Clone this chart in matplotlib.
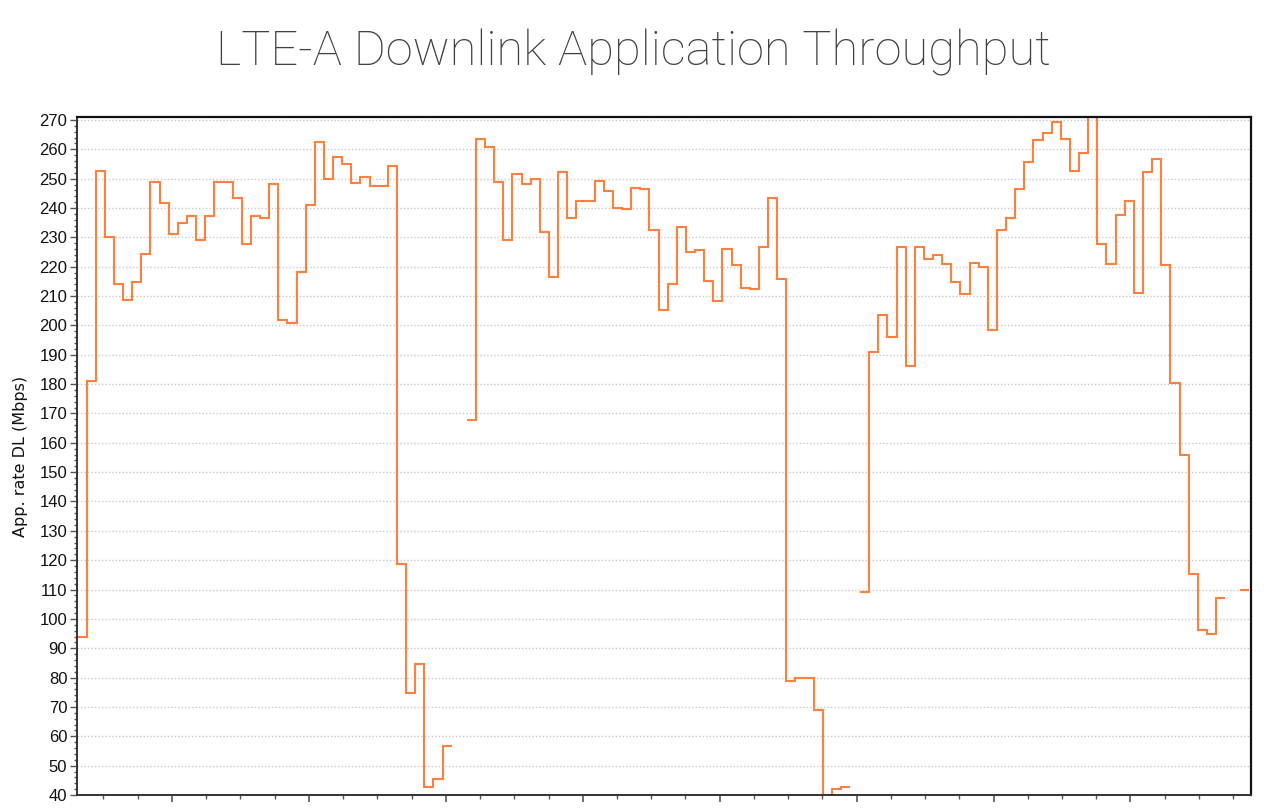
import matplotlib
matplotlib.use("Agg")
import matplotlib.pyplot as plt
import numpy as np
from matplotlib.ticker import MultipleLocator

# App. rate DL samples (Mbps), one per second, in four runs with gaps between them
run_starts = [4.65, 47.3, 90.37, 131.97]  # time of first sample of each run (s)

run_a = [93.9, 181.1, 252.7, 230.2, 214.1, 208.8, 214.7, 224.4, 248.8, 241.7,
         231.2, 234.8, 237.2, 229.0, 237.2, 248.8, 248.8, 243.4, 227.8, 237.2,
         236.5, 248.1, 201.8, 200.7, 218.1, 241.1, 262.5, 249.8, 257.4, 255.1,
         248.6, 250.5, 247.5, 247.5, 254.4, 118.7, 74.9, 84.6, 42.6, 45.5, 56.8]
run_b = [167.8, 263.6, 260.8, 248.8, 229.1, 251.6, 248.2, 249.9, 231.9, 216.4,
         252.2, 236.6, 242.4, 242.4, 249.3, 245.9, 240.1, 239.5, 246.9, 246.4,
         232.5, 205.3, 214.2, 233.6, 225.0, 225.6, 215.1, 208.3, 226.1, 220.5,
         212.8, 212.3, 226.8, 243.4, 215.7, 78.8, 80.0, 80.0, 69.0, 40.1, 41.9, 42.6]
run_c = [109.3, 190.8, 203.5, 196.0, 226.7, 186.3, 226.7, 222.6, 223.9, 221.0,
         214.7, 210.6, 221.4, 219.8, 198.4, 232.4, 236.6, 246.4, 255.7, 263.1,
         265.5, 269.4, 263.6, 252.7, 258.6, 271.0, 227.8, 221.0, 237.7, 242.4,
         211.1, 252.2, 256.7, 220.5, 180.5, 155.7, 115.3, 96.2, 95.0, 107.1]
run_d = [109.8]

runs = [run_a, run_b, run_c, run_d]

title = "LTE-A Downlink Application Throughput"
y_label = "App. rate DL (Mbps)"
line_color = "#ff7f3f"

fig = plt.figure(figsize=(12.64, 8.09), dpi=100)
ax = fig.add_axes([77 / 1264, 1 - 795 / 809, 1174 / 1264, 678 / 809])

for start, vals in zip(run_starts, runs):
    edges = start + np.arange(len(vals) + 1)
    ax.stairs(vals, edges, baseline=None, color=line_color, lw=1.5)

ax.set_xlim(4.6, 133.2)
ax.set_ylim(40, 271)

# y axis: labels every 10, minor ticks every 2
ax.yaxis.set_major_locator(MultipleLocator(10))
ax.yaxis.set_minor_locator(MultipleLocator(2))
ax.xaxis.set_major_locator(MultipleLocator(15))
ax.xaxis.set_minor_locator(MultipleLocator(3.75))
ax.tick_params(axis="x", which="both", labelbottom=False, direction="out", color="#555555")
ax.tick_params(axis="x", which="major", length=5, width=1.2)
ax.tick_params(axis="x", which="minor", length=3, width=1.0)
ax.tick_params(axis="y", which="major", length=5, width=1.0, pad=2, color="#555555",
               labelsize=12, labelcolor="#111111")
ax.tick_params(axis="y", which="minor", length=2.5, width=1.0, color="#555555")
for lbl in ax.get_yticklabels():
    lbl.set_family("Liberation Sans")

ax.grid(axis="y", which="major", color="#c8c8c8", lw=1.0, linestyle=(0, (1, 1.5)))
ax.set_axisbelow(True)

for side in ["left", "bottom"]:
    ax.spines[side].set_color("#333333")
    ax.spines[side].set_linewidth(1.4)
for side in ["top", "right"]:
    ax.spines[side].set_color("#111111")
    ax.spines[side].set_linewidth(1.6)

ax.set_ylabel(y_label, fontsize=11.5, family="DejaVu Sans", color="#111111", labelpad=8)

t = fig.text(633 / 1264, 1 - 65 / 809, title, ha="center", va="baseline",
             fontsize=34, family=["Roboto", "DejaVu Sans"], fontweight="light",
             color="#404040")
# fit the title to the width it has in the original (about 834 px)
r = fig.canvas.get_renderer()
w = t.get_window_extent(renderer=r).width
t.set_fontsize(34 * 834 / w)

fig.savefig("out.png", dpi=100)
